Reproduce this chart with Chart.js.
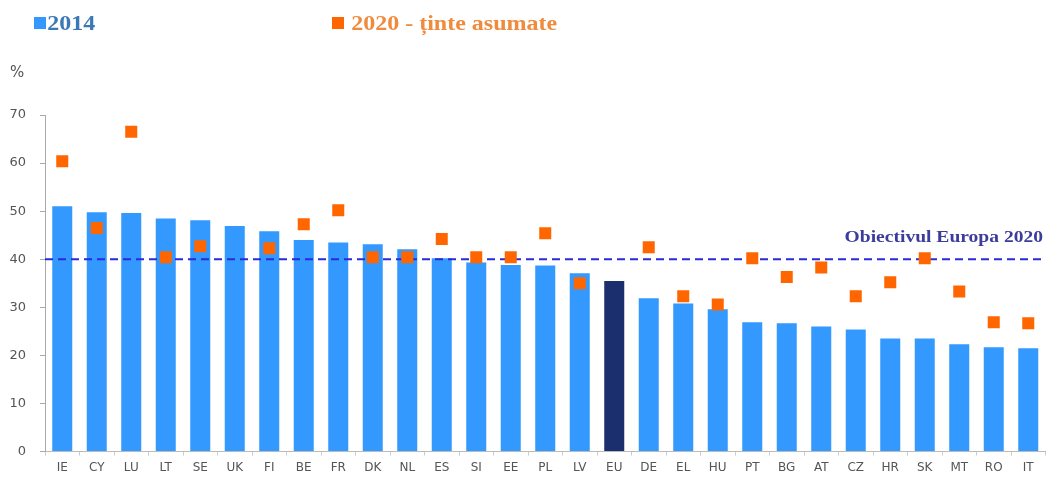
<!DOCTYPE html>
<html>
<head>
<meta charset="utf-8">
<script src="https://cdn.jsdelivr.net/npm/chart.js@4"></script>
<style>
  html, body { margin: 0; padding: 0; background: #fff; overflow: hidden; }
  #wrap { position: relative; width: 1054px; height: 480px; }
  .leg { position: absolute; top: 12px; font-family: "Liberation Serif", "DejaVu Serif", serif; font-weight: bold; font-size: 20px; white-space: nowrap; transform: scaleX(1.2); transform-origin: 0 0; }
  .sq { display: inline-block; width: 10px; height: 12px; margin-right: 1px; vertical-align: 1px; }
  #pct { position: absolute; left: 10px; top: 63px; font-family: "DejaVu Sans", sans-serif; font-size: 15px; color: #555; }
</style>
</head>
<body>
<div id="wrap">
  <canvas id="c" width="1054" height="480"></canvas>
  <div class="leg" style="left:34px;color:#3b78b8"><span class="sq" style="background:#3399ff"></span>2014</div>
  <div class="leg" style="left:332px;color:#f08a3c"><span class="sq" style="background:#ff6600;margin-right:6px"></span>2020 - ținte asumate</div>
  <div id="pct">%</div>
</div>
<script>
const categories = ['IE','CY','LU','LT','SE','UK','FI','BE','FR','DK','NL','ES','SI','EE','PL','LV','EU','DE','EL','HU','PT','BG','AT','CZ','HR','SK','MT','RO','IT'];
const values2014 = [51.0,49.8,49.6,48.5,48.1,46.9,45.8,44.0,43.5,43.1,42.1,40.2,39.3,38.8,38.7,37.1,35.5,31.9,30.8,29.6,26.9,26.7,26.0,25.4,23.5,23.5,22.3,21.7,21.5];
const targets2020 = [60.4,46.5,66.5,40.4,42.7,null,42.3,47.3,50.2,40.4,40.4,44.2,40.4,40.4,45.4,35.0,null,42.5,32.3,30.6,40.2,36.3,38.3,32.3,35.2,40.2,33.3,26.9,26.7];
const europeTarget = 40;
const europeLabel = 'Obiectivul Europa 2020';
const yTicks = [0,10,20,30,40,50,60,70];

const barColors = categories.map(c => c === 'EU' ? '#1b2f6e' : '#3399ff');

const targetLinePlugin = {
  id: 'targetLine',
  afterDatasetDraw(chart, args) {
    if (args.index !== 1) return;
    const {ctx, chartArea, scales} = chart;
    const y = scales.y.getPixelForValue(europeTarget);
    ctx.save();
    ctx.strokeStyle = '#2a2ad8';
    ctx.lineWidth = 2;
    ctx.setLineDash([8, 5]);
    ctx.beginPath();
    ctx.moveTo(chartArea.left, y);
    ctx.lineTo(chartArea.right, y);
    ctx.stroke();
    ctx.restore();
  },
  afterDraw(chart) {
    const {ctx, scales} = chart;
    const y = scales.y.getPixelForValue(europeTarget);
    ctx.save();
    ctx.font = 'bold 17px "Liberation Serif", "DejaVu Serif", serif';
    ctx.fillStyle = '#3c3c9c';
    ctx.textAlign = 'right';
    ctx.textBaseline = 'middle';
    ctx.translate(1043, y - 22);
    ctx.scale(1.15, 1);
    ctx.fillText(europeLabel, 0, 0);
    ctx.restore();
  }
};

new Chart(document.getElementById('c'), {
  data: {
    labels: categories,
    datasets: [
      {
        type: 'line',
        label: '2020 - ținte asumate',
        data: targets2020,
        showLine: false,
        pointStyle: 'rect',
        pointRadius: 8.5,
        pointHoverRadius: 8.5,
        pointBackgroundColor: '#ff6600',
        pointBorderWidth: 0,
        borderColor: '#ff6600',
        order: 0
      },
      {
        type: 'bar',
        label: '2014',
        data: values2014,
        backgroundColor: barColors,
        barPercentage: 0.58,
        categoryPercentage: 1.0,
        order: 1
      }
    ]
  },
  options: {
    responsive: false,
    animation: false,
    devicePixelRatio: 1,
    layout: { padding: { top: 115, left: 0, right: 0, bottom: 0 } },
    plugins: { legend: { display: false }, tooltip: { enabled: false } },
    scales: {
      x: {
        grid: { drawOnChartArea: false, drawTicks: true, tickLength: 4, color: '#ccc' },
        border: { color: '#bbb' },
        ticks: { color: '#555', font: { family: '"DejaVu Sans", sans-serif', size: 12 }, padding: 5, maxRotation: 0, autoSkip: false }
      },
      y: {
        min: 0, max: 70,
        afterFit(scale) { scale.width = 45; },
        afterBuildTicks(scale) { scale.ticks = yTicks.map(v => ({ value: v })); },
        grid: { drawOnChartArea: false, drawTicks: true, tickLength: 5, color: '#aaa' },
        border: { color: '#aaa' },
        ticks: { color: '#555', font: { family: '"DejaVu Sans", sans-serif', size: 13 }, padding: 14 }
      }
    }
  },
  plugins: [targetLinePlugin]
});
</script>
</body>
</html>
